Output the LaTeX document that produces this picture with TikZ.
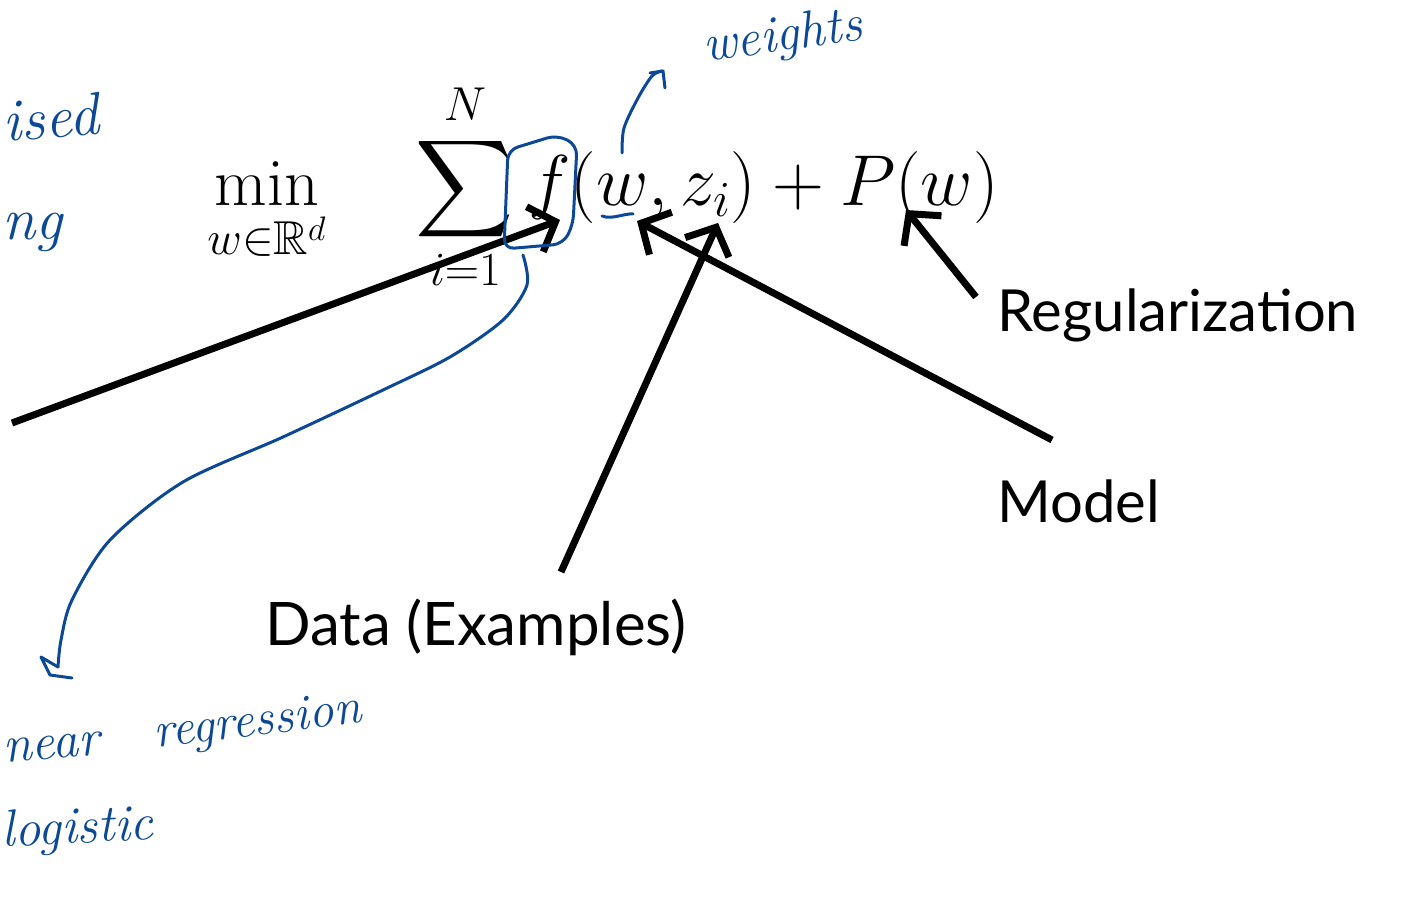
\documentclass[tikz,border=0pt]{standalone}
\usepackage{fix-cm}
\usepackage{amsmath,amssymb}
\usepackage{fontspec}
\newfontfamily\labelfont{Lato}
\usetikzlibrary{arrows.meta}
\definecolor{inkblue}{RGB}{12,72,150}
\tikzset{
  pointer/.style={line width=3.5pt, -{Straight Barb[length=11pt,width=24pt]}},
  ink/.style={inkblue, line width=1.5pt, line cap=round, line join=round},
  scribble/.style={inkblue, font=\fontsize{26}{30}\selectfont\itshape, inner sep=0pt, anchor=base west},
  caption/.style={font=\fontsize{29}{34}\selectfont\labelfont, inner sep=0pt, anchor=base west},
  mathpart/.style={font=\fontsize{34}{40}\selectfont, inner sep=0pt}
}
\begin{document}
\begin{tikzpicture}[x=0.5pt, y=-0.5pt]
  \useasboundingbox (0,0) rectangle (1402,898);
  % the objective
  \node[mathpart, anchor=base] (minop) at (267,206) {$\displaystyle\min_{w\in\mathbb{R}^d}$};
  \node[mathpart, anchor=base] (sumop) at (465,206) {$\displaystyle\sum_{i=1}^{N}$};
  \node[mathpart, anchor=base west, font=\fontsize{36}{42}\selectfont] (terms) at (528,206) {$f(w, z_i) + P(w)$};
  % labels
  \node[caption] (reglbl) at (997,332) {Regularization};
  \node[caption] (modellbl) at (997,522) {Model};
  \node[caption, font=\fontsize{30}{35}\selectfont\labelfont] (datalbl) at (265,645) {Data (Examples)};
  \coordinate (ftip) at (560,220);
  \coordinate (wtip) at (637,221);
  \coordinate (ztip) at (718,223);
  \coordinate (ptip) at (906,210);
  \coordinate (lefttail) at (12,423);
  \coordinate (datatail) at (561,572);
  \coordinate (modeltail) at (1052,440);
  \coordinate (regtail) at (976,297);
  \draw[pointer] (lefttail) -- (ftip);
  \draw[pointer] (datatail) -- (ztip);
  \draw[pointer] (modeltail) -- (wtip);
  \draw[pointer] (regtail) -- (ptip);
  % handwritten notes
  \node[scribble, rotate=5, font=\fontsize{30}{34}\selectfont\itshape] (supnote) at (4,142) {ised};
  \node[scribble, font=\fontsize{30}{34}\selectfont\itshape] (lrnnote) at (2,240) {ng};
  \node[scribble, rotate=8] (wnote) at (705,62) {weights};
  \node[scribble, rotate=5] (linnote) at (4,763) {near};
  \node[scribble, rotate=7, font=\fontsize{25}{30}\selectfont\itshape] (regrnote) at (155,748) {regression};
  \node[scribble, rotate=3] (lognote) at (2,847) {logistic};
  \draw[ink, rounded corners=5pt] (508,150) -- (557,135) -- (577,145) -- (573,225) -- (563,244) -- (504,249) -- cycle;
  \draw[ink] plot[smooth] coordinates {(523,255) (527,285) (503,320) (450,357) (383,390) (283,437) (183,482) (110,540) (72,600) (61,640) (58,667)};
  \draw[ink] (58,667) -- (41,657) -- (50,675) -- (72,678);
  \draw[ink] plot[smooth] coordinates {(622,153) (624,128) (638,98) (652,76) (662,71)};
  \draw[ink] (650,73) -- (663,71) -- (665,88);
  \draw[ink] (602,216) .. controls (612,220) and (625,213) .. (633,214);
\end{tikzpicture}
\end{document}
